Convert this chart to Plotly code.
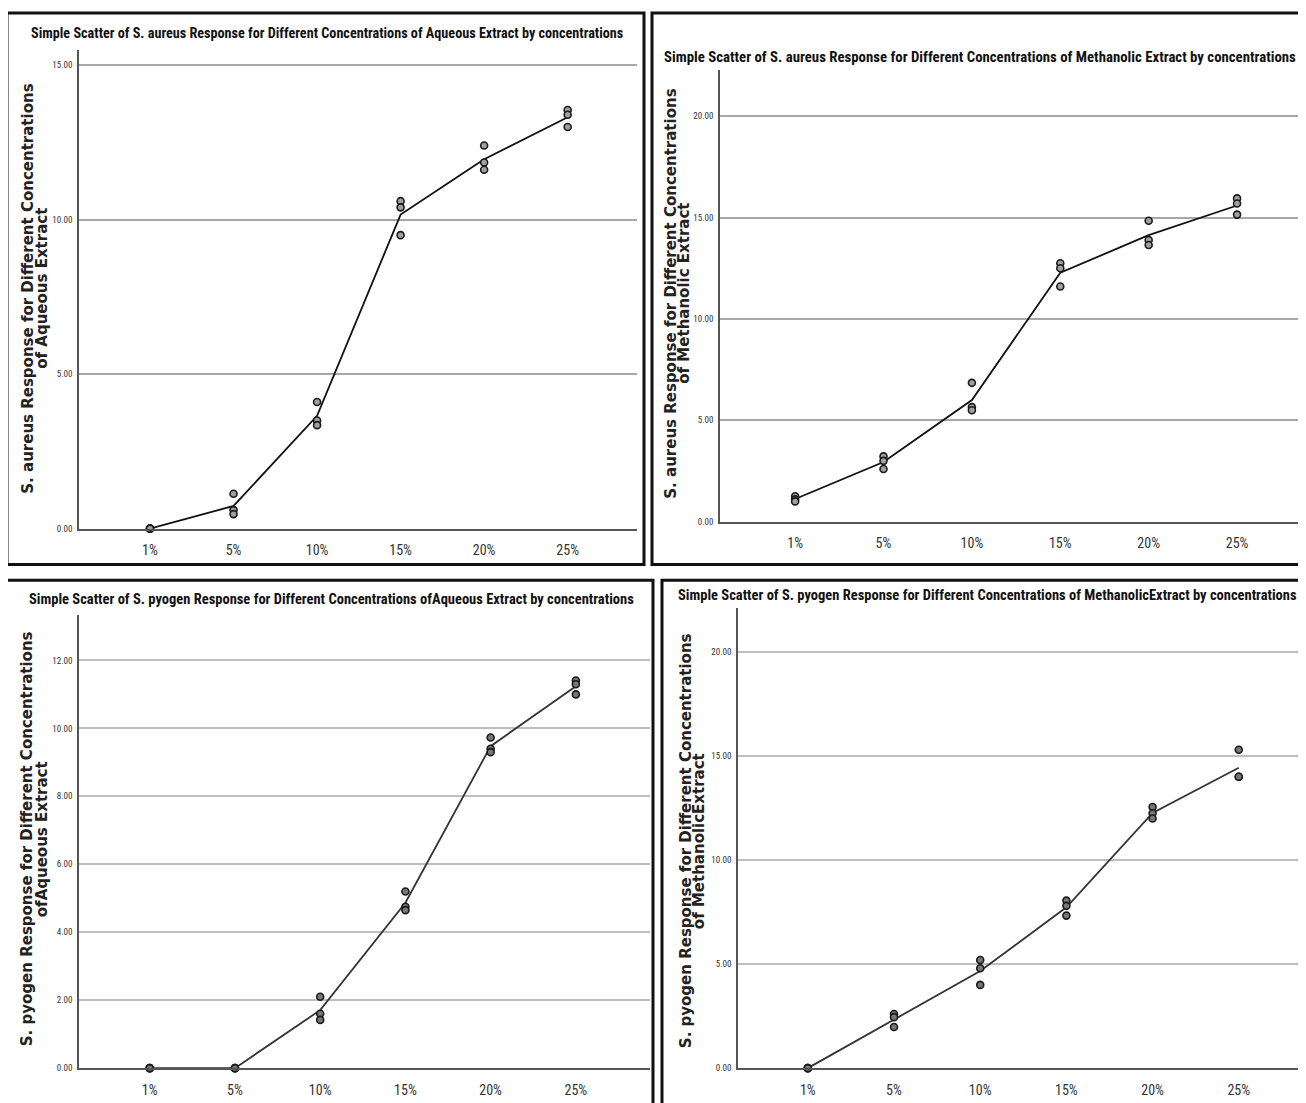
import numpy as np
import plotly.graph_objects as go

# Page offset: the HTML body has an 8px margin, so the figure is drawn 8px in.
OFF = 8
W, H = 1306 - OFF, 1103 - OFF

concentrations = ["1%", "5%", "10%", "15%", "20%", "25%"]

# replicate readings (3 per concentration)
aureus_aqueous = [
    [0.0, 0.0, 0.0],
    [1.13, 0.60, 0.47],
    [4.10, 3.50, 3.35],
    [10.60, 10.40, 9.50],
    [12.40, 11.85, 11.62],
    [13.55, 13.40, 13.00],
]
aureus_methanolic = [
    [1.25, 1.10, 1.00],
    [3.22, 3.00, 2.60],
    [6.85, 5.65, 5.50],
    [12.75, 12.50, 11.60],
    [14.85, 13.90, 13.65],
    [15.95, 15.70, 15.15],
]
pyogen_aqueous = [
    [0.0, 0.0, 0.0],
    [0.0, 0.0, 0.0],
    [2.10, 1.60, 1.42],
    [5.20, 4.75, 4.65],
    [9.73, 9.40, 9.30],
    [11.41, 11.30, 11.00],
]
pyogen_methanolic = [
    [0.0, 0.0, 0.0],
    [2.60, 2.45, 1.98],
    [5.20, 4.80, 4.00],
    [8.05, 7.80, 7.33],
    [12.55, 12.25, 12.00],
    [15.30, 14.00, 14.00],
]

titles = [
    "Simple Scatter of S. aureus Response for Different Concentrations of Aqueous Extract by concentrations",
    "Simple Scatter of S. aureus Response for Different Concentrations of Methanolic Extract by concentrations",
    "Simple Scatter of S. pyogen Response for Different Concentrations ofAqueous Extract by concentrations",
    "Simple Scatter of S. pyogen Response for Different Concentrations of MethanolicExtract by concentrations",
]
ytitles = [
    ("S. aureus Response for Different Concentrations", "of Aqueous Extract"),
    ("S. aureus Response for Different Concentrations", "of Methanolic Extract"),
    ("S. pyogen Response for Different Concentrations", "ofAqueous Extract"),
    ("S. pyogen Response for Different Concentrations", "of MethanolicExtract"),
]
yticks = [
    [0, 5, 10, 15],
    [0, 5, 10, 15, 20],
    [0, 2, 4, 6, 8, 10, 12],
    [0, 5, 10, 15, 20],
]
datasets = [aureus_aqueous, aureus_methanolic, pyogen_aqueous, pyogen_methanolic]

# layout geometry (screen pixels)
panels = [
    dict(x0=79, x1=637, ybot=531, ytop=50, xr=[-0.85, 5.83], yr=[0, 15.5],
         title_xy=(327, 33), tsize=14.2, yt1=(28, 290), yt2=(42, 290),
         frame=(7, 13, 644, 567), line="#111", grid="#a8a8a8", fill="#a0a0a0"),
    dict(x0=720, x1=1306, ybot=524, ytop=70, xr=[-0.85, 5.78], yr=[0, 22.3],
         title_xy=(980, 57), tsize=14.8, yt1=(671, 295), yt2=(684, 295),
         frame=(652, 13, 1312, 567), line="#111", grid="#a8a8a8", fill="#a0a0a0"),
    dict(x0=79, x1=650, ybot=1073, ytop=618, xr=[-0.83, 5.87], yr=[0, 13.33],
         title_xy=(331, 602), tsize=14.5, yt1=(27, 843), yt2=(42, 843),
         frame=(6, 583, 653, 1110), line="#333", grid="#c4bcbc", fill="#777777"),
    dict(x0=738, x1=1306, ybot=1073, ytop=611, xr=[-0.81, 5.78], yr=[0, 22.1],
         title_xy=(987, 598), tsize=14.5, yt1=(686, 845), yt2=(699, 845),
         frame=(662, 583, 1312, 1110), line="#333", grid="#c4bcbc", fill="#777777"),
]

NARROW = "Liberation Sans Narrow, Arial Narrow, Roboto Condensed, sans-serif"
WIDE = "DejaVu Sans, Verdana, sans-serif"

def px(x):
    return (x - OFF) / W

def py(y):
    return 1 - (y - OFF) / H

fig = go.Figure()
annotations = []
shapes = []
layout_axes = {}

for i, (p, data) in enumerate(zip(panels, datasets)):
    n = i + 1
    xa = "x" if n == 1 else f"x{n}"
    ya = "y" if n == 1 else f"y{n}"
    xs, ys = [], []
    for c, vals in zip(concentrations, data):
        for v in vals:
            xs.append(c)
            ys.append(v)
    means = [float(np.mean(v)) for v in data]
    fig.add_trace(go.Scatter(
        x=concentrations, y=means, mode="lines",
        line=dict(color=p["line"], width=1.8),
        xaxis=xa, yaxis=ya, showlegend=False, hoverinfo="skip",
        cliponaxis=False,
    ))
    fig.add_trace(go.Scatter(
        x=xs, y=ys, mode="markers",
        marker=dict(size=7, color=p["fill"], line=dict(color="#1a1a1a", width=1.6)),
        xaxis=xa, yaxis=ya, showlegend=False, cliponaxis=False,
    ))
    xkey = "xaxis" if n == 1 else f"xaxis{n}"
    ykey = "yaxis" if n == 1 else f"yaxis{n}"
    layout_axes[xkey] = dict(
        domain=[max(0, px(p["x0"])), min(1, px(p["x1"]))], anchor=ya,
        type="category", categoryorder="array", categoryarray=concentrations,
        range=p["xr"], showgrid=False, zeroline=False,
        showline=True, linecolor="#555", linewidth=2,
        ticks="", ticklabelstandoff=8,
        tickfont=dict(family=NARROW, size=14, color="#333"),
    )
    layout_axes[ykey] = dict(
        domain=[max(0, py(p["ybot"])), min(1, py(p["ytop"]))], anchor=xa,
        range=p["yr"], tickvals=yticks[i], tickformat=".2f",
        showgrid=True, gridcolor=p["grid"], gridwidth=2, zeroline=False,
        showline=True, linecolor="#555", linewidth=1.5,
        ticks="", ticklabelstandoff=3,
        tickfont=dict(family=NARROW, size=9, color="#333"),
    )
    annotations.append(dict(
        text="<b>" + titles[i] + "</b>", xref="paper", yref="paper",
        x=px(p["title_xy"][0]), y=py(p["title_xy"][1]),
        xanchor="center", yanchor="middle", showarrow=False,
        font=dict(family=NARROW, size=p["tsize"], color="#111"),
    ))
    for (tx, ty), txt in zip((p["yt1"], p["yt2"]), ytitles[i]):
        annotations.append(dict(
            text="<b>" + txt + "</b>", xref="paper", yref="paper",
            x=px(tx), y=py(ty), xanchor="center", yanchor="middle",
            textangle=-90, showarrow=False,
            font=dict(family=WIDE, size=15, color="#222"),
        ))
    fx0, fy0, fx1, fy1 = p["frame"]
    shapes.append(dict(
        type="rect", xref="paper", yref="paper",
        x0=px(fx0), x1=px(fx1), y0=py(fy1), y1=py(fy0),
        line=dict(color="#111", width=3), fillcolor="rgba(0,0,0,0)",
    ))

fig.update_layout(
    width=W, height=H,
    margin=dict(l=0, r=0, t=0, b=0),
    paper_bgcolor="white", plot_bgcolor="white",
    annotations=annotations, shapes=shapes,
    **layout_axes,
)

fig.write_html("out.html")
